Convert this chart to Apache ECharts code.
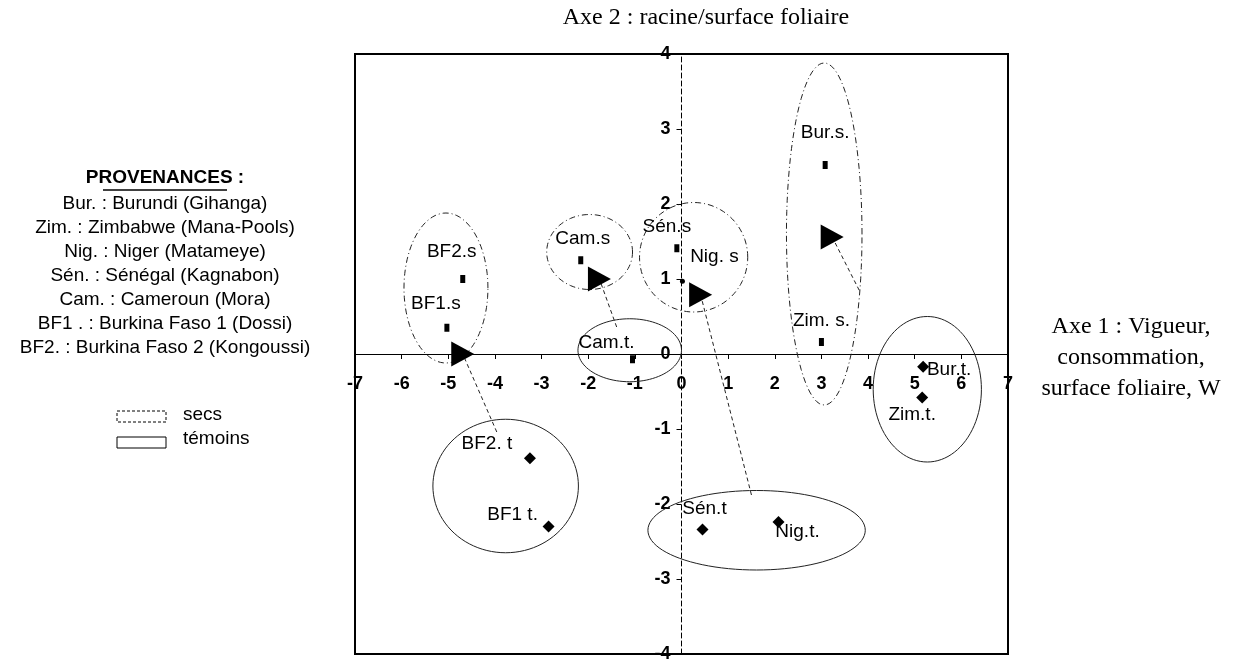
<!DOCTYPE html>
<html>
<head>
<meta charset="utf-8">
<script src="https://cdn.jsdelivr.net/npm/echarts@6/dist/echarts.min.js"></script>
<style>html,body{margin:0;background:#fff}#chart{width:1252px;height:659px}</style>
</head>
<body>
<div id="chart"></div>
<script>
// "secs" (drought) points, small squares
const secsNames = ['Bur.s.', 'Zim. s.', 'BF2.s', 'BF1.s', 'Cam.s', 'Cam.t.', 'Sén.s', 'Nig. s'];
const secsX = [3.08, 3.0, -4.69, -5.03, -2.16, -1.05, -0.1, 0.02];
const secsY = [2.52, 0.16, 1.0, 0.35, 1.25, -0.07, 1.41, 0.97];
// "témoins" (control) points, diamonds
const temNames = ['BF2. t', 'BF1 t.', 'Sén.t', 'Nig.t.', 'Bur.t.', 'Zim.t.'];
const temX = [-3.25, -2.85, 0.45, 2.08, 5.18, 5.16];
const temY = [-1.39, -2.3, -2.34, -2.24, -0.17, -0.58];
// arrow heads (triangles) and the start of each arrow line
const arrowX = [-4.69, -1.76, 0.41, 3.23];
const arrowY = [0.0, 1.0, 0.79, 1.56];
const arrowFromX = [-3.96, -1.39, 1.5, 3.81];
const arrowFromY = [-1.04, 0.36, -1.88, 0.85];
// group ellipses: centre, radii (axis units), kind
const ellCx = [-5.05, -1.97, 0.26, 3.06, -1.11, 5.27, 1.61, -3.77];
const ellCy = [0.88, 1.36, 1.29, 1.6, 0.05, -0.47, -2.35, -1.76];
const ellRx = [0.9, 0.92, 1.16, 0.81, 1.11, 1.16, 2.33, 1.56];
const ellRy = [1.0, 0.5, 0.73, 2.28, 0.42, 0.97, 0.53, 0.89];
const ellKind = ['s', 's', 's', 's', 't', 't', 't', 't'];

const provenances = [
  'Bur. : Burundi (Gihanga)',
  'Zim. : Zimbabwe (Mana-Pools)',
  'Nig. : Niger (Matameye)',
  'Sén. : Sénégal (Kagnabon)',
  'Cam. : Cameroun (Mora)',
  'BF1 . : Burkina Faso 1 (Dossi)',
  'BF2. : Burkina Faso 2 (Kongoussi)'
];

// label offsets (px) relative to the marker
const labelOffset = {
  'Bur.s.': [0, -32], 'Zim. s.': [0, -21], 'BF2.s': [-11, -27], 'BF1.s': [-11, -24],
  'Cam.s': [2, -21], 'Cam.t.': [-26, -16], 'Sén.s': [-10, -21], 'Nig. s': [32, -24],
  'BF2. t': [-43, -14], 'BF1 t.': [-36, -12], 'Sén.t': [2, -21], 'Nig.t.': [19, 10],
  'Bur.t.': [26, 3], 'Zim.t.': [-10, 17]
};

const SANS = 'Arial, "Liberation Sans", sans-serif';
const SERIF = '"Times New Roman", "Liberation Serif", serif';

const W = 1252, H = 659;
const G = { left: 355, right: 244, top: 54, bottom: 5 };

function pointItems(names, xs, ys) {
  return names.map((n, i) => ({
    value: [xs[i], ys[i]],
    name: n,
    symbol: n === 'Nig. s' ? 'circle' : undefined,
    symbolSize: n === 'Nig. s' ? 5 : undefined,
    label: { offset: labelOffset[n] }
  }));
}

var myChart = echarts.init(document.getElementById('chart'));

const txt = (text, x, y, font, align) => ({
  type: 'text',
  style: { text: text, x: x, y: y, fill: '#000', font: font, textAlign: align || 'center', textVerticalAlign: 'middle' }
});

const legendGraphics = [
  txt('PROVENANCES :', 165, 178, 'bold 19px ' + SANS),
  { type: 'line', shape: { x1: 103, y1: 190, x2: 227, y2: 190 }, style: { stroke: '#000', lineWidth: 1.5 } }
];
provenances.forEach((t, i) => {
  legendGraphics.push(txt(t, 165, 204 + i * 24, '19px ' + SANS));
});
legendGraphics.push(
  { type: 'rect', shape: { x: 117, y: 411, width: 49, height: 11 }, style: { fill: '#fff', stroke: '#000', lineWidth: 1, lineDash: [3, 2] } },
  { type: 'rect', shape: { x: 117, y: 437, width: 49, height: 11 }, style: { fill: '#fff', stroke: '#000', lineWidth: 1 } },
  txt('secs', 183, 415, '19px ' + SANS, 'left'),
  txt('témoins', 183, 439, '19px ' + SANS, 'left'),
  txt('Axe 2 : racine/surface foliaire', 706, 18, '24px ' + SERIF),
  txt('Axe 1 : Vigueur,', 1131, 327, '24px ' + SERIF),
  txt('consommation,', 1131, 358, '24px ' + SERIF),
  txt('surface foliaire, W', 1131, 389, '24px ' + SERIF)
);

const ptLabel = {
  show: true,
  formatter: '{b}',
  color: '#000',
  fontFamily: SANS,
  fontSize: 19,
  position: 'inside'
};

myChart.setOption({
  animation: false,
  backgroundColor: '#fff',
  grid: {
    left: G.left,
    right: G.right,
    top: G.top,
    bottom: G.bottom,
    outerBoundsMode: 'none',
    show: true,
    borderColor: '#000',
    borderWidth: 2
  },
  xAxis: {
    type: 'value',
    min: -7,
    max: 7,
    interval: 1,
    // move the axis from the bottom edge up to y = 0
    offset: -(H - G.top - G.bottom) / 2,
    axisLine: { onZero: false, lineStyle: { color: '#000', width: 1 } },
    axisTick: { show: true, length: 5, lineStyle: { color: '#000' } },
    axisLabel: { color: '#000', fontFamily: SANS, fontSize: 18, fontWeight: 'bold', margin: 21 },
    splitLine: { show: false }
  },
  yAxis: {
    type: 'value',
    min: -4,
    max: 4,
    interval: 1,
    // move the axis from the left edge to x = 0
    offset: -(W - G.left - G.right) / 2,
    axisLine: { onZero: false, lineStyle: { color: '#000', width: 1, type: [5, 3] } },
    axisTick: { show: true, length: 5, lineStyle: { color: '#000' } },
    axisLabel: { color: '#000', fontFamily: SANS, fontSize: 18, fontWeight: 'bold', margin: 11 },
    splitLine: { show: false }
  },
  graphic: legendGraphics,
  series: [
    {
      name: 'ellipses',
      type: 'custom',
      silent: true,
      data: ellCx.map((c, i) => [c, ellCy[i], ellRx[i], ellRy[i]]),
      renderItem: function (params, api) {
        const cx = api.value(0), cy = api.value(1), rx = api.value(2), ry = api.value(3);
        const pts = [];
        for (let k = 0; k < 96; k++) {
          const a = k / 96 * Math.PI * 2;
          pts.push(api.coord([cx + rx * Math.cos(a), cy + ry * Math.sin(a)]));
        }
        const secs = ellKind[params.dataIndex] === 's';
        return {
          type: 'polygon',
          shape: { points: pts },
          style: { fill: 'none', stroke: '#222', lineWidth: 1, lineDash: secs ? [6, 3, 1, 3] : null }
        };
      }
    },
    {
      name: 'arrows',
      type: 'custom',
      silent: true,
      data: arrowX.map((x, i) => [arrowFromX[i], arrowFromY[i], x, arrowY[i]]),
      renderItem: function (params, api) {
        const a = api.coord([api.value(0), api.value(1)]);
        const b = api.coord([api.value(2), api.value(3)]);
        return {
          type: 'line',
          shape: { x1: a[0], y1: a[1], x2: b[0], y2: b[1] },
          style: { stroke: '#222', lineWidth: 1, lineDash: [4, 3] }
        };
      }
    },
    {
      name: 'triangles',
      type: 'scatter',
      symbol: 'triangle',
      symbolRotate: -90,
      symbolSize: [25, 23],
      itemStyle: { color: '#000', opacity: 1 },
      data: arrowX.map((x, i) => [x, arrowY[i]])
    },
    {
      name: 'secs',
      type: 'scatter',
      symbol: 'rect',
      symbolSize: [5, 8],
      itemStyle: { color: '#000', opacity: 1 },
      label: ptLabel,
      data: pointItems(secsNames, secsX, secsY)
    },
    {
      name: 'témoins',
      type: 'scatter',
      symbol: 'diamond',
      symbolSize: 12,
      itemStyle: { color: '#000', opacity: 1 },
      label: ptLabel,
      data: pointItems(temNames, temX, temY)
    }
  ]
});
</script>
</body>
</html>
